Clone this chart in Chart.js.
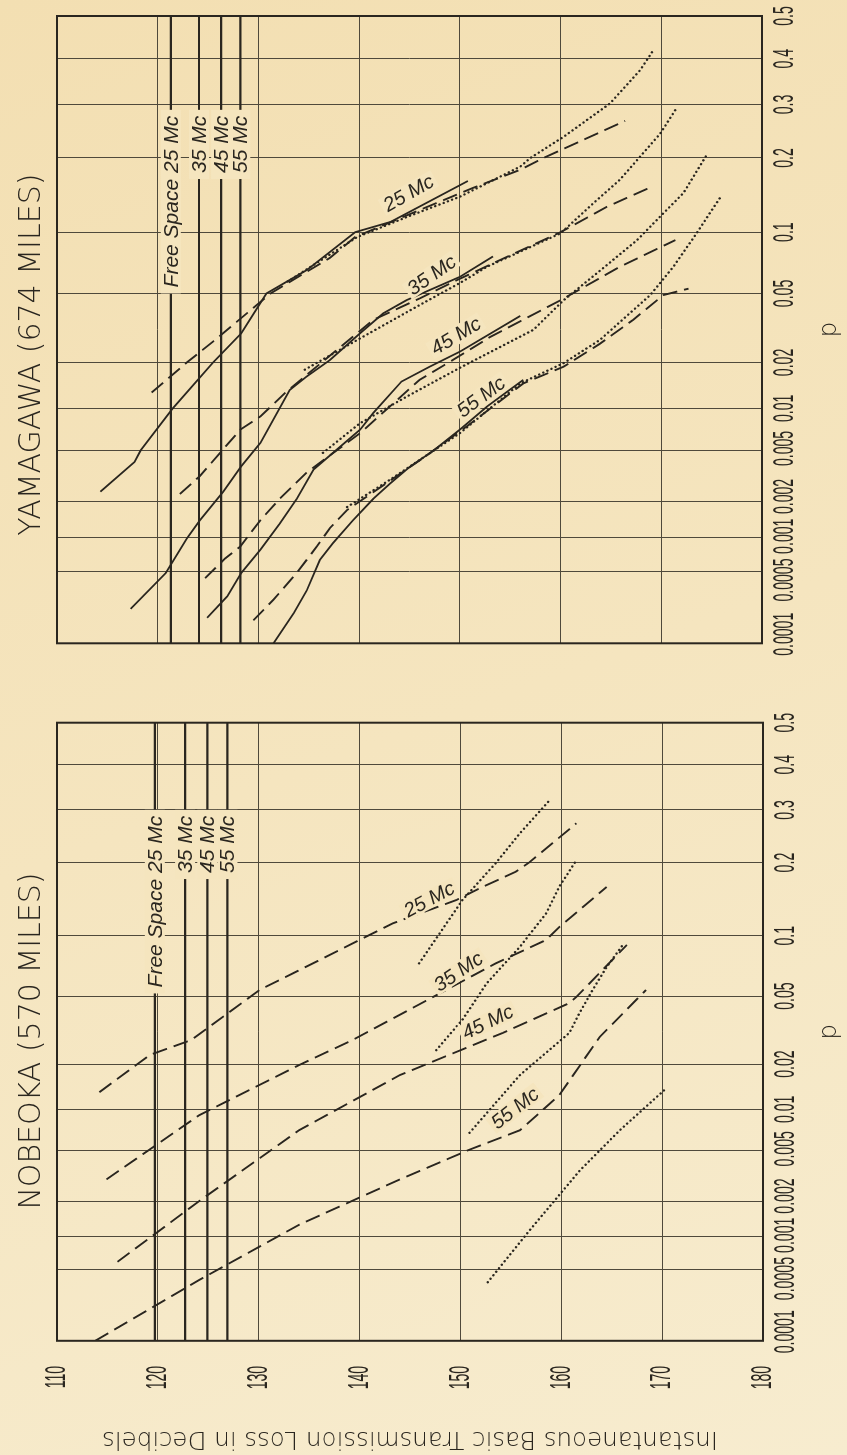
<!DOCTYPE html>
<html lang="en">
<head>
<meta charset="utf-8">
<title>Basic transmission loss - Nobeoka and Yamagawa</title>
<script src="https://cdn.jsdelivr.net/npm/chart.js@4.4.1/dist/chart.umd.min.js"></script>
<style>
    html, body { margin: 0; padding: 0; }
    body {
        width: 847px; height: 1455px; overflow: hidden;
        background: linear-gradient(160deg, #f3dfb2 0%, #f5e5bf 50%, #f7eccf 100%);
    }
    /* the figure is laid out landscape and turned a quarter turn to the left */
    #sheet {
        position: absolute; left: 0; top: 0; width: 1455px; height: 847px;
        transform-origin: 0 0; transform: translate(0, 1455px) rotate(-90deg);
    }
    .panel { position: absolute; top: 0; height: 847px; }
    #leftPanel { left: 0; width: 770px; }
    #rightPanel { left: 770px; width: 685px; }
</style>
</head>
<body>
<div id="sheet">
    <div class="panel" id="leftPanel"><canvas id="nobeokaChart"></canvas></div>
    <div class="panel" id="rightPanel"><canvas id="yamagawaChart"></canvas></div>
</div>
<script>
// Axis ticks
const pTicks = [0.0001, 0.0005, 0.001, 0.002, 0.005, 0.01, 0.02, 0.05, 0.1, 0.2, 0.3, 0.4, 0.5];
const pTickLabels = ['0.0001', '0.0005', '0.001', '0.002', '0.005', '0.01', '0.02', '0.05', '0.1', '0.2', '0.3', '0.4', '0.5'];
const lossTicks = [110, 120, 130, 140, 150, 160, 170, 180];
const frequencies = ['25 Mc', '35 Mc', '45 Mc', '55 Mc'];

// Nobeoka (570 miles): free space loss per frequency, curves as [p, dB]
const nobeokaFreeSpace = [119.7, 122.7, 124.9, 126.9];
const nobeokaDashed25 = [[0.0131, 114.2], [0.0228, 119.2], [0.0281, 123.3], [0.054, 130.1], [0.0658, 133.4], [0.0796, 136.7], [0.0956, 140.0], [0.1137, 143.3], [0.143, 149.6], [0.1595, 151.9], [0.185, 155.5], [0.2, 156.8], [0.2725, 161.5]];
const nobeokaDotted25 = [[0.0738, 145.9], [0.143, 150.2], [0.199, 153.5], [0.253, 155.9], [0.317, 158.7]];
const nobeokaDashed35 = [[0.003, 114.9], [0.0091, 124.1], [0.0197, 134.0], [0.0281, 139.3], [0.0495, 147.3], [0.0738, 153.5], [0.0956, 158.5], [0.1095, 159.8], [0.1615, 164.5]];
const nobeokaDotted35 = [[0.0244, 147.6], [0.037, 150.2], [0.0584, 152.6], [0.0888, 155.9], [0.1257, 158.5], [0.162, 159.8], [0.204, 161.5]];
const nobeokaDashed45 = [[0.00059, 116.0], [0.002, 124.1], [0.0071, 134.0], [0.017, 144.0], [0.031, 154.2], [0.0458, 160.8], [0.0495, 161.5], [0.0906, 166.5]];
const nobeokaDotted45 = [[0.0068, 150.9], [0.017, 155.9], [0.031, 160.8], [0.0403, 161.8], [0.0539, 163.1], [0.0708, 164.5], [0.0906, 166.1]];
const nobeokaDashed55 = [[0.0001, 113.8], [0.0004, 124.1], [0.00126, 134.0], [0.003, 144.0], [0.0051, 150.9], [0.0071, 155.9], [0.0125, 159.8], [0.0293, 163.8], [0.0539, 168.4]];
const nobeokaDotted55 = [[0.00038, 152.7], [0.00114, 156.9], [0.0035, 161.8], [0.0071, 165.8], [0.0135, 170.2]];

// Yamagawa (674 miles)
const yamagawaFreeSpace = [121.3, 124.1, 126.3, 128.2];
const yamagawaSolid25 = [[0.0024, 114.3], [0.0041, 117.7], [0.005, 118.3], [0.01, 121.5], [0.02, 125.5], [0.03, 128.3], [0.05, 130.8], [0.066, 134.8], [0.1, 139.6], [0.111, 143.1], [0.164, 150.8]];
const yamagawaDashed25 = [[0.0128, 119.4], [0.02, 122.9], [0.0274, 125.7], [0.05, 131.2], [0.0758, 137.1], [0.095, 139.6], [0.125, 146.0], [0.154, 151.3], [0.181, 156.0], [0.2, 158.3], [0.267, 166.4]];
const yamagawaDotted25 = [[0.0577, 132.9], [0.095, 139.8], [0.117, 144.8], [0.142, 150.0], [0.186, 156.0], [0.2, 157.0], [0.237, 160.3], [0.302, 164.9], [0.374, 167.9], [0.416, 169.1]];
const yamagawaSolid35 = [[0.00022, 117.3], [0.00048, 120.8], [0.00098, 122.9], [0.0014, 124.2], [0.0024, 126.5], [0.0038, 128.3], [0.0057, 130.2], [0.0133, 133.1], [0.0163, 134.8], [0.0207, 137.1], [0.03, 140.1], [0.039, 142.4], [0.046, 144.7], [0.061, 150.0], [0.077, 153.3]];
const yamagawaDashed35 = [[0.0023, 122.2], [0.0032, 124.2], [0.005, 126.4], [0.0071, 128.2], [0.0088, 130.2], [0.013, 132.8], [0.0167, 134.8], [0.0358, 141.4], [0.047, 146.0], [0.059, 149.8], [0.074, 154.0], [0.1, 160.0], [0.129, 164.6], [0.156, 169.1]];
const yamagawaDotted35 = [[0.018, 134.6], [0.028, 140.1], [0.0433, 146.0], [0.0567, 150.0], [0.0686, 152.7], [0.0988, 160.0], [0.134, 163.3], [0.166, 165.9], [0.243, 169.9], [0.289, 171.4]];
const yamagawaSolid45 = [[0.00018, 124.9], [0.00029, 126.9], [0.00048, 128.3], [0.00078, 130.2], [0.0013, 132.1], [0.0021, 133.8], [0.0036, 135.5], [0.0071, 140.1], [0.0093, 141.4], [0.0151, 144.2], [0.0188, 147.0], [0.0233, 150.0], [0.0377, 156.0]];
const yamagawaDashed45 = [[0.00043, 124.7], [0.00065, 126.7], [0.00083, 128.2], [0.0014, 130.2], [0.0021, 132.1], [0.0034, 134.8], [0.0042, 136.4], [0.0067, 140.1], [0.0155, 146.0], [0.0207, 149.3], [0.0285, 153.0], [0.046, 160.0], [0.0686, 165.9], [0.092, 171.4]];
const yamagawaDotted45 = [[0.0048, 136.4], [0.0079, 140.1], [0.012, 144.7], [0.0185, 150.0], [0.0314, 157.3], [0.046, 160.3], [0.0636, 163.6], [0.092, 167.6], [0.121, 170.2], [0.147, 172.2], [0.205, 174.5]];
const yamagawaSolid55 = [[0.0001, 131.5], [0.0002, 133.5], [0.00033, 134.8], [0.00063, 136.1], [0.00089, 137.4], [0.0014, 139.4], [0.0021, 141.4], [0.0028, 143.1], [0.0038, 145.1], [0.005, 147.4], [0.0071, 150.0], [0.0103, 152.7], [0.0155, 156.3]];
const yamagawaDashed55 = [[0.00017, 129.5], [0.00027, 131.5], [0.00048, 133.8], [0.00083, 135.8], [0.0012, 137.1], [0.0017, 138.8], [0.0042, 146.0], [0.0075, 150.7], [0.0147, 156.3], [0.0188, 160.3], [0.026, 163.9], [0.0358, 167.2], [0.049, 170.2], [0.053, 172.7]];
const yamagawaDotted55 = [[0.0018, 138.8], [0.003, 143.1], [0.0067, 150.0], [0.0147, 156.0], [0.0198, 160.3], [0.0274, 163.9], [0.0424, 167.6], [0.049, 168.9], [0.0686, 171.2], [0.0988, 173.5], [0.121, 174.8], [0.144, 176.0]];

// Colours and line styles
const INK = '#2a261f';
const GRID_INK = '#4f493b';
const PAPER = '#f5e5be';
const lineStyles = {
    solid: { borderWidth: 1.8, borderDash: [] },
    dashed: { borderWidth: 1.9, borderDash: [15, 7] },
    dotted: { borderWidth: 2.4, borderDash: [0.1, 4.4], borderCapStyle: 'round' },
    free: { borderWidth: 2.2, borderDash: [] }
};
// small shifts so the crowded p labels sit side by side
const pTickNudge = [9, -9, 1, 5, 2, 0, 0, 0, 0, 0, 0, 0, 0];

// Inverse normal distribution (Acklam) for the probability axis
function probit(p) {
    const a = [-39.69683028665376, 220.9460984245205, -275.9285104469687, 138.3577518672690, -30.66479806614716, 2.506628277459239];
    const b = [-54.47609879822406, 161.5858368580409, -155.6989798598866, 66.80131188771972, -13.28068155288572];
    const c = [-0.007784894002430293, -0.3223964580411365, -2.400758277161838, -2.549732539343734, 4.374664141464968, 2.938163982698783];
    const d = [0.007784695709041462, 0.3224671290700398, 2.445134137142996, 3.754408661907416];
    const plow = 0.02425;
    if (p < plow) {
        const q = Math.sqrt(-2 * Math.log(p));
        return (((((c[0] * q + c[1]) * q + c[2]) * q + c[3]) * q + c[4]) * q + c[5]) /
            ((((d[0] * q + d[1]) * q + d[2]) * q + d[3]) * q + 1);
    }
    if (p <= 1 - plow) {
        const q = p - 0.5, r = q * q;
        return (((((a[0] * r + a[1]) * r + a[2]) * r + a[3]) * r + a[4]) * r + a[5]) * q /
            (((((b[0] * r + b[1]) * r + b[2]) * r + b[3]) * r + b[4]) * r + 1);
    }
    const q = Math.sqrt(-2 * Math.log(1 - p));
    return -(((((c[0] * q + c[1]) * q + c[2]) * q + c[3]) * q + c[4]) * q + c[5]) /
        ((((d[0] * q + d[1]) * q + d[2]) * q + d[3]) * q + 1);
}

function curve(points, style) {
    return Object.assign({
        data: points.map(([p, db]) => ({ x: probit(p), y: db })),
        showLine: true,
        pointRadius: 0,
        borderColor: INK,
        borderCapStyle: 'butt',
        tension: 0,
        fill: false
    }, lineStyles[style]);
}

function freeSpaceLines(levels) {
    return levels.map(db => curve([[0.0001, db], [0.5, db]], 'free'));
}

// Narrow lettering of the tick labels
function drawNarrow(ctx, text, x, y, align) {
    const squeeze = 0.47;
    ctx.save();
    ctx.font = "30px 'Liberation Sans', Arial, sans-serif";
    ctx.textBaseline = 'middle';
    ctx.textAlign = 'left';
    const w = ctx.measureText(text).width * squeeze;
    const left = align === 'right' ? x - w : x - w / 2;
    ctx.translate(left, y);
    ctx.scale(squeeze, 1);
    ctx.fillStyle = INK;
    ctx.fillText(text, 0, 0);
    ctx.restore();
}

// Labels, frame, tick text and panel title
const paperMarks = {
    id: 'paperMarks',
    afterDatasetsDraw(chart, args, opts) {
        const ctx = chart.ctx;
        const xs = chart.scales.x, ys = chart.scales.y;
        ctx.save();
        ctx.textBaseline = 'middle';

        // free space labels written along their lines
        ctx.font = "italic 21px 'Liberation Sans', Arial, sans-serif";
        opts.freeSpace.forEach((db, i) => {
            const text = i === 0 ? 'Free Space ' + frequencies[0] : frequencies[i];
            const right = xs.getPixelForValue(probit(opts.freeSpaceEnd));
            const y = ys.getPixelForValue(db);
            const w = ctx.measureText(text).width;
            ctx.fillStyle = PAPER;
            ctx.fillRect(right - w - 12, y - 10, w + 12, 20);
            ctx.fillStyle = INK;
            ctx.textAlign = 'right';
            ctx.fillText(text, right - 6, y + 1);
        });

        // frequency labels beside the curves
        ctx.font = "italic 20px 'Liberation Sans', Arial, sans-serif";
        opts.curveLabels.forEach(l => {
            const x = xs.getPixelForValue(probit(l.p));
            const y = ys.getPixelForValue(l.db);
            ctx.save();
            ctx.translate(x, y);
            ctx.rotate(l.angle * Math.PI / 180);
            const w = ctx.measureText(l.text).width;
            ctx.fillStyle = PAPER;
            ctx.fillRect(-w / 2 - 3, -9, w + 6, 18);
            ctx.fillStyle = INK;
            ctx.textAlign = 'center';
            ctx.fillText(l.text, 0, 1);
            ctx.restore();
        });
        ctx.restore();
    },
    afterDraw(chart, args, opts) {
        const ctx = chart.ctx, area = chart.chartArea;
        const xs = chart.scales.x, ys = chart.scales.y;

        ctx.save();
        ctx.strokeStyle = INK;
        ctx.lineWidth = 2;
        ctx.strokeRect(area.left, area.top, area.right - area.left, area.bottom - area.top);

        pTicks.forEach((p, i) => {
            drawNarrow(ctx, pTickLabels[i], xs.getPixelForValue(probit(p)) + pTickNudge[i], area.bottom + 23, 'center');
        });
        if (opts.lossLabels) {
            lossTicks.forEach(v => drawNarrow(ctx, String(v), area.left - 25, ys.getPixelForValue(v), 'right'));
        }

        ctx.font = "300 30px 'DejaVu Sans', 'Liberation Sans', sans-serif";
        ctx.fillStyle = INK;
        ctx.textAlign = 'center';
        ctx.textBaseline = 'middle';
        ctx.fillText(opts.title, area.left + (area.right - area.left) * opts.titleAt, 32);
        ctx.restore();
    }
};

function makePanel(canvasId, panel) {
    return new Chart(document.getElementById(canvasId), {
        type: 'scatter',
        data: { datasets: panel.datasets },
        options: {
            responsive: true,
            maintainAspectRatio: false,
            animation: false,
            events: [],
            layout: { padding: { top: 57, right: panel.padRight, bottom: 0, left: 0 } },
            plugins: {
                legend: { display: false },
                tooltip: { enabled: false },
                paperMarks: panel.marks
            },
            scales: {
                x: {
                    type: 'linear',
                    min: probit(0.0001),
                    max: probit(0.5),
                    afterBuildTicks: s => { s.ticks = pTicks.map(p => ({ value: probit(p) })); },
                    afterFit: s => { s.height = panel.xAxisHeight; },
                    ticks: { display: false },
                    grid: { color: GRID_INK, lineWidth: 1, drawTicks: false },
                    border: { display: false },
                    title: {
                        display: true, text: 'p', color: INK,
                        font: { family: "'DejaVu Sans', sans-serif", size: 25, weight: 300, lineHeight: 1 },
                        padding: { top: 0, bottom: 5 }
                    }
                },
                y: {
                    type: 'linear',
                    min: 110,
                    max: 180,
                    reverse: true,
                    afterBuildTicks: s => { s.ticks = lossTicks.map(v => ({ value: v })); },
                    afterFit: s => { s.width = panel.yAxisWidth; },
                    ticks: { display: false },
                    grid: { color: GRID_INK, lineWidth: 1, drawTicks: false },
                    border: { display: false },
                    title: {
                        display: panel.showLossTitle,
                        text: 'Instantaneous Basic Transmission Loss in Decibels',
                        color: INK,
                        font: { family: "'DejaVu Sans', sans-serif", size: 24.5, weight: 300, lineHeight: 1 },
                        padding: { top: 4, bottom: 0 }
                    }
                }
            }
        },
        plugins: [paperMarks]
    });
}

makePanel('nobeokaChart', {
    padRight: 37.7,
    xAxisHeight: 84,
    yAxisWidth: 114.2,
    showLossTitle: true,
    datasets: [
        ...freeSpaceLines(nobeokaFreeSpace),
        curve(nobeokaDashed25, 'dashed'), curve(nobeokaDotted25, 'dotted'),
        curve(nobeokaDashed35, 'dashed'), curve(nobeokaDotted35, 'dotted'),
        curve(nobeokaDashed45, 'dashed'), curve(nobeokaDotted45, 'dotted'),
        curve(nobeokaDashed55, 'dashed'), curve(nobeokaDotted55, 'dotted')
    ],
    marks: {
        title: 'NOBEOKA (570 MILES)',
        titleAt: 0.485,
        lossLabels: true,
        freeSpace: nobeokaFreeSpace,
        freeSpaceEnd: 0.30,
        curveLabels: [
            { text: '25 Mc', p: 0.144, db: 146.9, angle: 62 },
            { text: '35 Mc', p: 0.0672, db: 149.8, angle: 56 },
            { text: '45 Mc', p: 0.0359, db: 152.7, angle: 64 },
            { text: '55 Mc', p: 0.0102, db: 155.4, angle: 52 }
        ]
    }
});

makePanel('yamagawaChart', {
    padRight: 16,
    xAxisHeight: 85,
    yAxisWidth: 41.7,
    showLossTitle: false,
    datasets: [
        ...freeSpaceLines(yamagawaFreeSpace),
        curve(yamagawaSolid25, 'solid'), curve(yamagawaDashed25, 'dashed'), curve(yamagawaDotted25, 'dotted'),
        curve(yamagawaSolid35, 'solid'), curve(yamagawaDashed35, 'dashed'), curve(yamagawaDotted35, 'dotted'),
        curve(yamagawaSolid45, 'solid'), curve(yamagawaDashed45, 'dashed'), curve(yamagawaDotted45, 'dotted'),
        curve(yamagawaSolid55, 'solid'), curve(yamagawaDashed55, 'dashed'), curve(yamagawaDotted55, 'dotted')
    ],
    marks: {
        title: 'YAMAGAWA (674 MILES)',
        titleAt: 0.46,
        lossLabels: false,
        freeSpace: yamagawaFreeSpace,
        freeSpaceEnd: 0.289,
        curveLabels: [
            { text: '25 Mc', p: 0.147, db: 144.9, angle: 60.5 },
            { text: '35 Mc', p: 0.0624, db: 147.2, angle: 55 },
            { text: '45 Mc', p: 0.029, db: 149.6, angle: 59 },
            { text: '55 Mc', p: 0.012, db: 152.1, angle: 53.4 }
        ]
    }
});
</script>
</body>
</html>
